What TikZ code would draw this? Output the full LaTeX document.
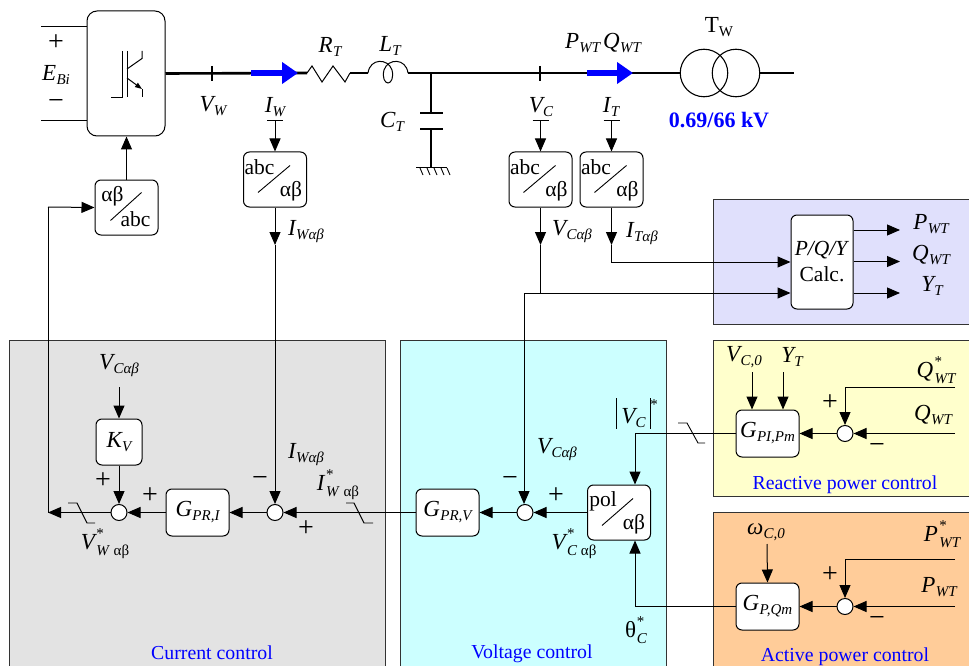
\documentclass[tikz,border=0pt]{standalone}
\usepackage{fontspec}
\setmainfont{Liberation Serif}
\usetikzlibrary{arrows.meta,calc}
\definecolor{pgrey}{HTML}{E3E3E3}
\definecolor{pcyan}{HTML}{CCFFFF}
\definecolor{pviolet}{HTML}{E0E0FC}
\definecolor{pyellow}{HTML}{FFFFCC}
\definecolor{porange}{HTML}{FFCC99}
\definecolor{edgec}{HTML}{333333}
\newcommand\lbl[2]{{\fontsize{23}{23}\selectfont\itshape #1\kern.3pt\raisebox{-4pt}{\fontsize{15}{15}\selectfont #2}}}
\newcommand\slbl[2]{{\fontsize{23}{23}\selectfont\itshape #1\kern1.5pt\rlap{\raisebox{11pt}{\fontsize{15}{15}\selectfont\upshape *}}\raisebox{-6pt}{\fontsize{15}{15}\selectfont #2}}}
\newcommand\ab{\textup{αβ}}
\tikzset{
  blk/.style={draw=black,fill=white,rounded corners=6pt,line width=1pt,inner sep=0pt},
  conv/.style={blk,minimum width=63pt,minimum height=55pt},
  sumc/.style={draw=black,fill=white,circle,line width=1pt,inner sep=0pt,minimum size=16pt},
  arr/.style={line width=1pt,-{Triangle[length=13pt,width=11pt]}},
  wire/.style={line width=1pt},
  main/.style={line width=2.6pt},
  flow/.style={line width=6pt,blue,-{Triangle[length=16pt,width=21pt,sep=0pt]},shorten >=0pt},
  lab/.style={inner sep=0pt,font=\fontsize{23}{23}\selectfont},
  conv text/.style={inner sep=0pt,font=\fontsize{21.5}{21.5}\selectfont},
  pm/.style={inner sep=0pt,font=\fontsize{28}{28}\selectfont},
  captxt/.style={inner sep=0pt,text=blue,font=\fontsize{19.8}{19.8}\selectfont},
  edge line/.style={draw=edgec,line width=1pt},
}
\begin{document}
\begin{tikzpicture}[x=1pt,y=-1pt]
\useasboundingbox (0,0) rectangle (969,666);
% panels
\fill[pgrey] (9.5,340) rectangle (385,666);
\draw[edge line] (9.5,666) -- (9.5,340) -- (385,340) -- (385,666);
\fill[pcyan] (400,340) rectangle (666,666);
\draw[edge line] (400,666) -- (400,340) -- (666,340) -- (666,666);
\fill[pviolet] (713,199) rectangle (969,324);
\draw[edge line] (969,199) -- (713,199) -- (713,324) -- (969,324);
\fill[pyellow] (713,340) rectangle (969,496);
\draw[edge line] (969,340) -- (713,340) -- (713,496) -- (969,496);
\fill[porange] (713,512) rectangle (969,666);
\draw[edge line] (969,512) -- (713,512) -- (713,666);
% inverter
\node[draw=black,fill=white,rounded corners=10pt,line width=1pt,inner sep=0pt,minimum width=78pt,minimum height=125pt] (inv) at (126,73.5) {};
\coordinate (dcA) at (41,27); \coordinate (dcB) at (41,121);
\draw[wire] (dcA) -- (dcA -| inv.west);
\draw[wire] (dcB) -- (dcB -| inv.west);
\node[pm] (dcplus) at (56,43) {+};
\node[lab] (ebi) at (56,75) {\lbl{E}{Bi}};
\node[pm] (dcminus) at (56,105) {−};
\draw[line width=1pt] (111,97.5) -- (122.5,97.5) -- (122.5,51);
\draw[line width=1pt] (127,51) -- (127,97.5);
\draw[line width=1pt] (127,69) -- (142,58.5) -- (142,51);
\draw[line width=1pt,-{Triangle[length=7pt,width=5pt]}] (127,78) -- (142,89);
\draw[line width=1pt] (142,89) -- (142,97.5);
% main line
\coordinate (flowA) at (251,73); \coordinate (flowAe) at (298,73);
\coordinate (rs) at (307,73); \coordinate (re) at (350,73);
\coordinate (ls) at (368,73); \coordinate (le) at (408,73);
\coordinate (cj) at (431,73);
\coordinate (flowB) at (587,73); \coordinate (flowBe) at (633,73);
\coordinate (tl) at (794,73);
\node[draw=black,circle,line width=1.1pt,inner sep=0pt,minimum size=47.5pt] (t1) at (704,73) {};
\node[draw=black,circle,line width=1.1pt,inner sep=0pt,minimum size=47.5pt] (t2) at (736,73) {};
\draw[main] (inv.east) -- (rs);
\draw[main] (re) -- (ls);
\draw[main] (le) -- (t1.west);
\draw[main] (t2.east) -- (tl);
\draw[flow] (flowA) -- (flowAe);
\draw[flow] (flowB) -- (flowBe);
\draw[line width=2pt] (212,66) -- (212,81);
\draw[line width=2pt] (540,66) -- (540,81);
\draw[line width=1pt] (rs) -- (312,66) -- (322,82) -- (333,66) -- (345,82) -- (re);
\draw[line width=1pt] (ls) .. controls (370,58) and (388,58) .. (392,70) .. controls (394,78) and (391,83) .. (388,83) .. controls (385,83) and (382,78) .. (384,70) .. controls (388,58) and (406,58) .. (le);
% capacitor
\coordinate (capA) at (431,113); \coordinate (capB) at (431,129); \coordinate (gnd) at (431,167.5);
\draw[line width=2pt] (cj) -- (capA);
\draw[line width=1.4pt] (420,113) -- (443,113);
\draw[line width=1.4pt] (420,129) -- (443,129);
\draw[line width=2pt] (capB) -- (gnd);
\draw[line width=1pt] (416,167.5) -- (447,167.5);
\foreach \xx in {420,427,434,441,447}{\draw[line width=.9pt] (\xx,168) -- (\xx+3,175);}
% top labels
\node[lab] (lrt) at (330,47) {\lbl{R}{T}};
\node[lab] (llt) at (390,46) {\lbl{L}{T}};
\node[lab] (lct) at (392,122) {\lbl{C}{T}};
\node[lab] (lvw) at (213,106) {\lbl{V}{W}};
\node[lab] (liw) at (275,107) {\lbl{I}{W}};
\node[lab] (lvc) at (541,107) {\lbl{V}{C}};
\node[lab] (lit) at (611,107) {\lbl{I}{T}};
\node[lab] (lpq) at (603,43) {\lbl{P}{WT}\kern3pt\lbl{Q}{WT}};
\node[lab] (ltw) at (719,27) {T\raisebox{-4pt}{\fontsize{15}{15}\selectfont W}};
\node[inner sep=0pt,text=blue,font=\fontsize{22}{22}\selectfont\bfseries] (kv) at (719,120) {0.69/66 kV};
% converters
\node[conv] (ciw) at (275,179.5) {};
\node[conv] (cvc) at (540.5,179.5) {};
\node[conv] (cit) at (611.5,179.5) {};
\node[conv] (cvi) at (126.5,207.5) {};
\node[conv] (pol) at (619,512.5) {};
\foreach \bb in {ciw,cvc,cit}{
  \node[conv text] at ($(\bb.north west)+(16.5,16)$) {abc};
  \node[conv text] at ($(\bb.north west)+(48,40)$) {αβ};
  \draw[line width=.9pt] ($(\bb.north west)+(15,41)$) -- ($(\bb.north west)+(47,14)$);
}
\node[conv text] (cvia) at ($(cvi.north west)+(18,17)$) {αβ};
\node[conv text] (cvib) at ($(cvi.north west)+(41,40)$) {abc};
\draw[line width=.9pt] ($(cvi.north west)+(16,41)$) -- ($(cvi.north west)+(47,13)$);
\node[conv text] (pola) at ($(pol.north west)+(16,17)$) {pol};
\node[conv text] (polb) at ($(pol.north west)+(47,40)$) {αβ};
\draw[line width=.9pt] ($(pol.north west)+(15,41)$) -- ($(pol.north west)+(46,14)$);
% sensors
\foreach \nn/\bb in {siw/ciw,svc/cvc,sit/cit}{
  \coordinate (\nn) at (\bb.north |- 0,121);
  \draw[line width=1pt] ($(\nn)+(-8,0)$) -- ($(\nn)+(8,0)$);
  \draw[arr] (\nn) -- (\bb.north);
}
% vi to inverter
\draw[arr] (cvi.north) -- (cvi.north |- inv.south);
% control blocks
\node[blk,minimum width=63pt,minimum height=47pt] (gprv) at (447.5,512.5) {\lbl{G}{PR,V}};
\node[blk,minimum width=63pt,minimum height=47pt] (gpri) at (197.5,512.5) {\lbl{G}{PR,I}};
\node[blk,minimum width=46pt,minimum height=46pt] (kvb) at (119,442) {\lbl{K}{V}};
\node[blk,minimum width=63pt,minimum height=47pt] (gpi) at (767.5,433.5) {\lbl{G}{PI,Pm}};
\node[blk,minimum width=63pt,minimum height=47pt] (gpq) at (767.5,606.5) {\lbl{G}{P,Qm}};
\node[blk,minimum width=62pt,minimum height=94pt] (calc) at (822,262) {};
\node[lab] (calca) at (822,250) {\fontsize{21.5}{21.5}\selectfont\textit{P/Q/Y}};
\node[lab] (calcb) at (822,274) {\fontsize{21.5}{21.5}\selectfont Calc.};
% sums
\node[sumc] (si) at (119,512.5) {};
\node[sumc] (sw) at (275,512.5) {};
\node[sumc] (sv) at (525,512.5) {};
\node[sumc] (sq) at (845,433.5) {};
\node[sumc] (sp) at (845,606.5) {};
% measurement wiring
\coordinate (iwm) at (275,245);
\coordinate (vcm) at (540.5,245);
\coordinate (itm) at (611.5,245);
\coordinate (vcj) at (540.5,293);
\coordinate (vcl) at (524,293);
\draw[arr] (ciw.south) -- (iwm);
\draw[arr] (cvc.south) -- (vcm);
\draw[arr] (cit.south) -- (itm);
\draw[arr] (iwm) -- (sw.north);
\draw[wire] (vcm) -- (vcj);
\draw[arr] (vcl) -- (vcl |- sv.north);
\draw[arr] (vcl) -- (vcl -| calc.west);
\draw[arr] (itm) |- (calc.west |- 0,262) ;
% outputs
\coordinate (op) at (900,230); \coordinate (oq) at (900,261.5); \coordinate (oy) at (900,293);
\draw[arr] (op -| calc.east) -- (op);
\draw[arr] (oq -| calc.east) -- (oq);
\draw[arr] (oy -| calc.east) -- (oy);
\node[lab] (opl) at (931,224) {\lbl{P}{WT}};
\node[lab] (oql) at (931,255) {\lbl{Q}{WT}};
\node[lab] (oyl) at (932,286) {\lbl{Y}{T}};
% forward path
\coordinate (vout) at (48,512.5);
\draw[wire] (vout) -- (48,207) ;
\draw[arr] (48,207) -- (cvi.west);
\draw[arr] (si.west) -- (vout);
\draw[arr] (gpri.west) -- (si.east);
\draw[arr] (sw.west) -- (gpri.east);
\draw[arr] (gprv.west) -- (sw.east);
\draw[arr] (sv.west) -- (gprv.east);
\draw[arr] (pol.west |- sv.east) -- (sv.east);
\draw[arr] (kvb.south) -- (si.north);
\coordinate (kvin) at (119,387);
\draw[arr] (kvin) -- (kvb.north);
% slash marks
\draw[line width=.9pt] (68,503) -- (77,503) -- (87,523) -- (95,523);
\draw[line width=.9pt] (346,503) -- (354,503) -- (364,523) -- (373,523);
\draw[line width=.9pt] (678,423) -- (687,423) -- (698,443) -- (705,443);
% pol inputs
\coordinate (polt) at (635,433.5);
\coordinate (polb0) at (635,606.5);
\draw[wire] (gpi.west) -- (polt);
\draw[arr] (polt) -- (polt |- pol.north);
\draw[wire] (gpq.west) -- (polb0);
\draw[arr] (polb0) -- (polb0 |- pol.south);
% reactive
\coordinate (qr) at (955,387); \coordinate (qm) at (955,433.5);
\coordinate (v0) at (752,372); \coordinate (yt) at (783,372);
\draw[arr] (v0) -- (v0 |- gpi.north);
\draw[arr] (yt) -- (yt |- gpi.north);
\draw[arr] (qr) -| (sq.north);
\draw[arr] (qm) -- (sq.east);
\draw[arr] (sq.west) -- (gpi.east);
% active
\coordinate (pr) at (955,559); \coordinate (pm0) at (955,606.5);
\coordinate (w0) at (767,544);
\draw[arr] (w0) -- (gpq.north);
\draw[arr] (pr) -| (sp.north);
\draw[arr] (pm0) -- (sp.east);
\draw[arr] (sp.west) -- (gpq.east);
% labels lower
\node[lab] (l1) at (306,232) {\lbl{I}{Wα\textit{β}}};
\node[lab] (l2) at (572,232) {\lbl{V}{Cα\textit{β}}};
\node[lab] (l3) at (642,234) {\lbl{I}{Tα\textit{β}}};
\node[lab] (l4) at (119,366) {\lbl{V}{Cα\textit{β}}};
\node[lab] (l5) at (306,455) {\lbl{I}{Wα\textit{β}}};
\node[lab] (l6) at (557,450) {\lbl{V}{Cα\textit{β}}};
\node[lab] (l7) at (338,485) {\slbl{I}{W \ab}};
\node[lab] (l8) at (105,544) {\slbl{V}{W \ab}};
\node[lab] (l9) at (574,544) {\slbl{V}{C \ab}};
\node[lab] (l10) at (636,630) {\textup{θ}\kern.5pt\rlap{\raisebox{11pt}{\fontsize{15}{15}\selectfont *}}\raisebox{-6pt}{\fontsize{15}{15}\selectfont\itshape C}};
\node[lab] (l11) at (637,413) {\rule[-5pt]{1.4pt}{31pt}\,\lbl{V}{C}\,\rule[-5pt]{.9pt}{31pt}\raisebox{14pt}{\fontsize{15}{15}\selectfont *}};
\node[lab] (l12) at (744,357) {\lbl{V}{C,0}};
\node[lab] (l13) at (792,357) {\lbl{Y}{T}};
\node[lab] (l14) at (936,370) {\slbl{Q}{WT}};
\node[lab] (l15) at (933,415) {\lbl{Q}{WT}};
\node[lab] (l16) at (766,532) {\lbl{ω}{C,0}};
\node[lab] (l17) at (942,534) {\slbl{P}{WT}};
\node[lab] (l18) at (939,587) {\lbl{P}{WT}};
% signs
\node[pm] (p1) at (103,481) {+};
\node[pm] (p2) at (150,496) {+};
\node[pm] (m1) at (260,481) {−};
\node[pm] (p3) at (306,529) {+};
\node[pm] (m2) at (510,481) {−};
\node[pm] (p4) at (556,496) {+};
\node[pm] (p5) at (830,403) {+};
\node[pm] (m3) at (877,448) {−};
\node[pm] (p6) at (830,575) {+};
\node[pm] (m4) at (877,621) {−};
% captions
\node[captxt] (c1) at (212,653) {Current control};
\node[captxt] (c2) at (532,654) {Voltage control};
\node[captxt] (c3) at (845,485) {Reactive power control};
\node[captxt] (c4) at (845,657) {Active power control};
\end{tikzpicture}
\end{document}
